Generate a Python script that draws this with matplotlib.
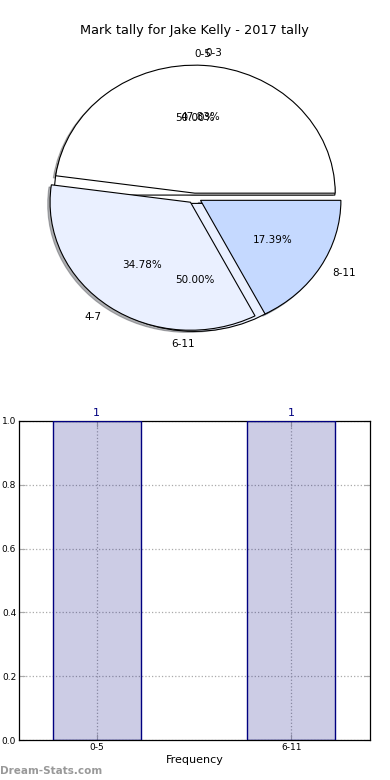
import matplotlib
matplotlib.use("Agg")
import matplotlib.pyplot as plt
import numpy as np

# data
title = "Mark tally for Jake Kelly - 2017 tally"
wide_labels = ["0-5", "6-11"]
wide_counts = [1, 1]
narrow_labels = ["0-3", "4-7", "8-11"]
narrow_counts = [11, 8, 4]
bar_labels = ["0-5", "6-11"]
bar_values = [1, 1]
yticks = [0.0, 0.2, 0.4, 0.6, 0.8, 1.0]

plt.rcParams["font.family"] = ["DejaVu Sans"]

fig = plt.figure(figsize=(3.9, 7.8), dpi=100)
ax_pie = fig.add_axes([19 / 390, 1 - 357 / 780, 351 / 390, 320 / 780])
ax_bar = fig.add_axes([19 / 390, 1 - 740 / 780, 351 / 390, 319 / 780])

# two pies drawn on the same axes, as in the source image
wedge_kw = dict(edgecolor="black", linewidth=0.8)
shadow_kw = {"ox": -0.012, "oy": -0.012, "shade": 0.6}
_, wide_texts, _ = ax_pie.pie(
    wide_counts, labels=wide_labels, colors=["white", "#eaf0ff"],
    explode=[0.015, 0.05], autopct="%1.2f%%", shadow=False,
    wedgeprops=wedge_kw, textprops=dict(fontsize=7.5))
# the old renderer put these two labels on the other side of their anchor
wide_texts[0].set_ha("left")
wide_texts[1].set_ha("right")
ax_pie.pie(narrow_counts, labels=narrow_labels,
           colors=["white", "#eaf0ff", "#c5d9ff"],
           explode=[0.03, 0.05, 0.05], autopct="%1.2f%%", shadow=shadow_kw,
           wedgeprops=wedge_kw, textprops=dict(fontsize=7.5))
ax_pie.set_aspect("auto")
ax_pie.set_xlim(-1.25, 1.25)
ax_pie.set_ylim(-1.25, 1.25)
ax_pie.set_title(title, fontsize=9.3, pad=2)

# bar chart
x = np.arange(len(bar_labels))
ax_bar.bar(x, bar_values, width=0.45, color="navy", alpha=0.2,
           edgecolor="none", zorder=2)
ax_bar.bar(x, bar_values, width=0.45, facecolor="none", edgecolor="navy",
           linewidth=1.0, zorder=3)
for xi, v in zip(x, bar_values):
    ax_bar.text(xi, v + 0.01, str(v), ha="center", va="bottom",
                color="navy", fontsize=8)
ax_bar.set_xlim(-0.4, 1.405)
ax_bar.set_ylim(0, 1.0)
ax_bar.set_xticks(x)
ax_bar.set_xticklabels(bar_labels, fontsize=6.5)
ax_bar.set_yticks(yticks)
ax_bar.set_yticklabels([f"{t:.1f}" for t in yticks], fontsize=6.5)
ax_bar.tick_params(direction="in", length=4, color="#aaaaaa",
                   top=True, right=True, pad=2)
ax_bar.grid(True, linestyle=":", color="#aaaaaa", linewidth=0.9, zorder=1)
ax_bar.set_axisbelow(True)
for s in ax_bar.spines.values():
    s.set_linewidth(0.9)
ax_bar.set_xlabel("Frequency", fontsize=8, labelpad=2)

fig.text(0.0, 1 - 771 / 780, "Dream-Stats.com", fontsize=7.5, color="#999999",
         fontweight="bold", ha="left", va="center")

fig.savefig("out.png", dpi=100)
